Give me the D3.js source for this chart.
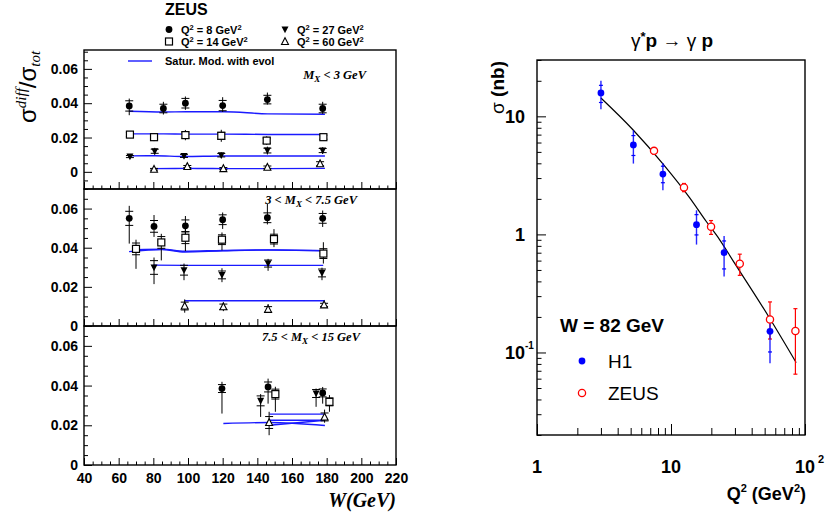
<!DOCTYPE html>
<html lang="en">
<head>
<meta charset="UTF-8">
<title>ZEUS DVCS</title>
<style>
  * { margin: 0; padding: 0; box-sizing: border-box; }
  body { background: #fff; }
  svg { display: block; font-family: "Liberation Sans", Arial, sans-serif; }
  .frame { fill: none; stroke: #000; stroke-width: 1.4px; }
  .model { fill: none; stroke: #1a1aff; stroke-width: 1.4px; }
  .bar { stroke: #000; stroke-width: 1px; }
  .serif { font-family: "Liberation Serif", "Times New Roman", serif; font-style: italic; }
</style>
</head>
<body>
<svg width="825" height="514"></svg>
<script src="https://d3js.org/d3.v7.min.js"></script>
<script>
// ---------- left: sigma_diff / sigma_tot vs W ----------
const wTicks = [40, 60, 80, 100, 120, 140, 160, 180, 200, 220];
const ratioTicks = [0, 0.02, 0.04, 0.06];
const ratioTickLabels = ["0", "0.02", "0.04", "0.06"];
const q2Labels = ["8", "14", "27", "60"];
const mxLabels = [["", " < 3 GeV"], ["3 < ", " < 7.5 GeV"], ["7.5 < ", " < 15 GeV"]];

// [W, ratio, errDown, errUp, stat]
const mx1Q8 = [[66.1, 0.0384, 0.0054, 0.0043, 0.0030], [85.8, 0.0369, 0.0035, 0.0039, 0.0025], [98.5, 0.0400, 0.0039, 0.0039, 0.0028],
               [120.0, 0.0386, 0.0037, 0.0049, 0.0030], [145.8, 0.0421, 0.0029, 0.0041, 0.0025], [177.7, 0.0369, 0.0031, 0.0039, 0.0025]];
const mx1Q14 = [[66.5, 0.0217, 0.0020, 0.0020, 0.0012], [80.4, 0.0202, 0.0023, 0.0023, 0.0015], [98.5, 0.0214, 0.0030, 0.0030, 0.0018],
                [119.2, 0.0210, 0.0035, 0.0035, 0.0020], [145.4, 0.0182, 0.0025, 0.0025, 0.0015], [178.1, 0.0202, 0.0020, 0.0020, 0.0012]];
const mx1Q27 = [[66.5, 0.0089, 0.0010, 0.0010, 0.0006], [80.8, 0.0120, 0.0020, 0.0020, 0.0012], [97.7, 0.0093, 0.0015, 0.0015, 0.0009],
                [119.2, 0.0097, 0.0017, 0.0017, 0.0010], [145.8, 0.0124, 0.0023, 0.0023, 0.0014], [177.7, 0.0124, 0.0020, 0.0020, 0.0012]];
const mx1Q60 = [[80.4, 0.0015, 0.0008, 0.0008, 0.0005], [99.6, 0.0031, 0.0010, 0.0010, 0.0006], [120.4, 0.0019, 0.0010, 0.0010, 0.0006],
                [145.8, 0.0027, 0.0012, 0.0012, 0.0007], [176.2, 0.0047, 0.0019, 0.0023, 0.0012]];

const mx2Q8 = [[66.1, 0.0550, 0.0129, 0.0064, 0.0036], [80.4, 0.0509, 0.0054, 0.0058, 0.0030], [98.5, 0.0512, 0.0070, 0.0050, 0.0030],
               [120.0, 0.0543, 0.0047, 0.0037, 0.0025], [145.8, 0.0553, 0.0034, 0.0071, 0.0025], [177.7, 0.0550, 0.0044, 0.0040, 0.0025]];
const mx2Q14 = [[70.0, 0.0394, 0.0102, 0.0047, 0.0030], [84.6, 0.0427, 0.0092, 0.0044, 0.0030], [98.5, 0.0451, 0.0068, 0.0054, 0.0030],
                [119.6, 0.0441, 0.0054, 0.0037, 0.0025], [149.6, 0.0444, 0.0041, 0.0051, 0.0025], [178.1, 0.0370, 0.0051, 0.0058, 0.0025]];
const mx2Q27 = [[80.4, 0.0299, 0.0085, 0.0051, 0.0035], [97.7, 0.0285, 0.0051, 0.0034, 0.0025], [119.6, 0.0261, 0.0037, 0.0034, 0.0020],
                [146.2, 0.0319, 0.0037, 0.0024, 0.0018], [177.3, 0.0271, 0.0037, 0.0027, 0.0020]];
const mx2Q60 = [[98.1, 0.0102, 0.0034, 0.0034, 0.0020], [120.4, 0.0098, 0.0022, 0.0022, 0.0014], [146.2, 0.0085, 0.0017, 0.0027, 0.0014],
                [178.5, 0.0108, 0.0014, 0.0014, 0.0008]];

const mx3Q8 = [[119.6, 0.0385, 0.0126, 0.0034, 0.0020], [146.2, 0.0393, 0.0084, 0.0042, 0.0025], [177.7, 0.0363, 0.0054, 0.0030, 0.0020]];
const mx3Q14 = [[150.4, 0.0357, 0.0089, 0.0037, 0.0025], [181.6, 0.0318, 0.0050, 0.0034, 0.0020]];
const mx3Q27 = [[141.9, 0.0323, 0.0081, 0.0034, 0.0025], [173.9, 0.0360, 0.0067, 0.0025, 0.0020]];
const mx3Q60 = [[146.8, 0.0214, 0.0064, 0.0054, 0.0030], [178.8, 0.0242, 0.0029, 0.0037, 0.0020]];

// saturation model with evolution, [W, ratio]
const mx1Fit8 = [[66, 0.0353], [86, 0.0349], [99, 0.0350], [121, 0.0350], [146, 0.0338], [179, 0.0336]];
const mx1Fit14 = [[66, 0.0221], [86, 0.0221], [99, 0.0220], [121, 0.0220], [146, 0.0218], [179, 0.0218]];
const mx1Fit27 = [[66, 0.0093], [81, 0.0094], [98, 0.0089], [120, 0.0092], [146, 0.0092], [179, 0.0092]];
const mx1Fit60 = [[80, 0.0019], [100, 0.0020], [120, 0.0019], [146, 0.0019], [179, 0.0020]];
const mx2Fit8 = [[66, 0.0380], [85, 0.0391], [98, 0.0378], [120, 0.0384], [146, 0.0389], [178, 0.0384]];
const mx2Fit14 = [[70, 0.0390], [85, 0.0392], [98, 0.0382], [120, 0.0386], [150, 0.0388], [178, 0.0385]];
const mx2Fit27 = [[80, 0.0311], [98, 0.0310], [120, 0.0310], [146, 0.0310], [178, 0.0310]];
const mx2Fit60 = [[98, 0.0129], [120, 0.0129], [146, 0.0129], [179, 0.0129]];
const mx3Fit8 = [[120.4, 0.0209], [147, 0.0214], [179, 0.0199]];
const mx3Fit14 = [[147, 0.0256], [179, 0.0256]];
const mx3Fit27 = [[147, 0.0225], [179, 0.0225]];
const mx3Fit60 = [[147, 0.0200], [179, 0.0225]];

// ---------- right: gamma* p -> gamma p, W = 82 GeV ----------
// [Q2, sigma, low, high, statLow, statHigh]
const h1Points = [[3.0, 15.8, 11.5, 20.0, 13.1, 18.3], [5.24, 5.73, 3.98, 7.6, 4.66, 6.87], [8.7, 3.24, 2.37, 4.03, 2.74, 3.78],
                  [15.5, 1.21, 0.82, 1.60, 0.99, 1.47], [24.9, 0.70, 0.44, 0.97, 0.51, 0.88], [54.8, 0.151, 0.081, 0.204, 0.101, 0.19]];
// [Q2, sigma, low, high]
const zeusPoints = [[7.47, 5.1, 4.8, 5.4], [12.5, 2.5, 2.3, 2.7], [19.9, 1.16, 1.0, 1.31],
                    [32.6, 0.565, 0.45, 0.68], [54.8, 0.19, 0.13, 0.268], [84.8, 0.152, 0.0655, 0.235]];
const fitCurve = [[3, 14.3], [5.2, 7.7], [8.7, 3.96], [13.8, 2.04], [18.4, 1.28], [23.1, 0.9], [29, 0.6], [54.5, 0.195], [86, 0.082]];
const q2Ticks = [1, 10, 100];
const q2TickLabels = [["1", ""], ["10", ""], ["10", "2"]];
const sigmaTicks = [0.1, 1, 10];
const sigmaTickLabels = [["10", "-1"], ["1", ""], ["10", ""]];

const svg = d3.select("svg");
svg.append("rect").attr("width", 825).attr("height", 514).attr("fill", "#fff");

function drawMarker(g, kind, cx, cy, color) {
  const s = 3.5;
  if (kind === "dot") {
    g.append("circle").attr("cx", cx).attr("cy", cy).attr("r", 3.4).attr("fill", color);
  } else if (kind === "square") {
    g.append("rect").attr("x", cx - s).attr("y", cy - s).attr("width", 2 * s).attr("height", 2 * s)
      .attr("fill", "#fff").attr("stroke", color).attr("stroke-width", 1.2);
  } else if (kind === "tridown") {
    g.append("path").attr("d", `M${cx - s},${cy - 3}L${cx + s},${cy - 3}L${cx},${cy + 3.8}Z`).attr("fill", color);
  } else if (kind === "triup") {
    g.append("path").attr("d", `M${cx - s},${cy + 3}L${cx + s},${cy + 3}L${cx},${cy - 3.8}Z`)
      .attr("fill", "#fff").attr("stroke", color).attr("stroke-width", 1.1);
  } else if (kind === "ring") {
    g.append("circle").attr("cx", cx).attr("cy", cy).attr("r", 3.6)
      .attr("fill", "#fff").attr("stroke", color).attr("stroke-width", 1.3);
  }
}

// ---- left panels ----
const x = d3.scaleLinear([40, 220], [84, 396]);
const markerKinds = ["dot", "square", "tridown", "triup"];
const panels = [
  { y: d3.scaleLinear([-0.01, 0.071], [189, 50]), data: [mx1Q8, mx1Q14, mx1Q27, mx1Q60], fits: [mx1Fit8, mx1Fit14, mx1Fit27, mx1Fit60], lx: 366, ly: 79 },
  { y: d3.scaleLinear([0, 0.07], [326, 189]), data: [mx2Q8, mx2Q14, mx2Q27, mx2Q60], fits: [mx2Fit8, mx2Fit14, mx2Fit27, mx2Fit60], lx: 357, ly: 204 },
  { y: d3.scaleLinear([0, 0.07], [465, 326]), data: [mx3Q8, mx3Q14, mx3Q27, mx3Q60], fits: [mx3Fit8, mx3Fit14, mx3Fit27, mx3Fit60], lx: 360, ly: 341 }
];
const minorW = d3.range(45, 220, 5).filter(d => d % 20 !== 0);

panels.forEach((p, i) => {
  const g = svg.append("g");
  const [lo, hi] = p.y.domain();
  const minorR = d3.range(Math.round(lo * 200), Math.round(hi * 200) + 1).map(k => k / 200)
    .filter(d => Math.round(d * 1000) % 20 !== 0);
  const bottom = p.y.range()[0], top = p.y.range()[1];

  g.append("g").attr("transform", "translate(84,0)")
    .call(d3.axisLeft(p.y).tickValues(minorR).tickSizeInner(-4).tickSizeOuter(0).tickFormat(""))
    .call(a => a.select(".domain").remove());
  g.append("g").attr("transform", "translate(84,0)")
    .call(d3.axisLeft(p.y).tickValues(ratioTicks).tickSizeInner(-8).tickSizeOuter(0).tickPadding(6)
      .tickFormat((d, k) => ratioTickLabels[k]))
    .call(a => a.select(".domain").remove())
    .call(a => a.selectAll("text").attr("font-size", 14).attr("font-weight", "bold")
      .attr("font-family", "Liberation Sans, Arial, sans-serif"));

  g.append("g").attr("transform", `translate(0,${bottom})`)
    .call(d3.axisBottom(x).tickValues(minorW).tickSizeInner(-3.5).tickSizeOuter(0).tickFormat(""))
    .call(a => a.select(".domain").remove());
  g.append("g").attr("transform", `translate(0,${bottom})`)
    .call(d3.axisBottom(x).tickValues(wTicks).tickSizeInner(-7).tickSizeOuter(0).tickPadding(8)
      .tickFormat(i === 2 ? (d => d) : ""))
    .call(a => a.select(".domain").remove())
    .call(a => a.selectAll("text").attr("font-size", 14).attr("font-weight", "bold")
      .attr("font-family", "Liberation Sans, Arial, sans-serif"));

  g.append("rect").attr("class", "frame").attr("x", 84).attr("y", top)
    .attr("width", 312).attr("height", bottom - top);

  const line = d3.line().x(d => x(d[0])).y(d => p.y(d[1])).curve(d3.curveMonotoneX);
  p.fits.forEach(f => g.append("path").attr("class", "model").attr("d", line(f)));

  p.data.forEach((series, s) => {
    series.forEach(d => {
      const cx = x(d[0]);
      g.append("line").attr("class", "bar").attr("x1", cx).attr("x2", cx)
        .attr("y1", p.y(d[1] - d[2])).attr("y2", p.y(d[1] + d[3]));
      [d[1] - d[4], d[1] + d[4]].forEach(v => g.append("line").attr("class", "bar")
        .attr("x1", cx - 4).attr("x2", cx + 4).attr("y1", p.y(v)).attr("y2", p.y(v)));
      drawMarker(g, markerKinds[s], cx, p.y(d[1]), "#000");
    });
  });

  const t = g.append("text").attr("class", "serif").attr("x", p.lx).attr("y", p.ly)
    .attr("text-anchor", "end").attr("font-size", 12.5).attr("font-weight", "bold");
  t.append("tspan").text(mxLabels[i][0] + "M");
  t.append("tspan").attr("font-size", 9).attr("dy", 3).text("X");
  t.append("tspan").attr("dy", -3).text(mxLabels[i][1]);
});

// left axis titles
const yt = svg.append("text").attr("transform", "translate(36,123) rotate(-90)").attr("font-size", 24);
yt.append("tspan").text("σ");
yt.append("tspan").attr("class", "serif").attr("font-size", 15).attr("dy", -10).text("diff");
yt.append("tspan").attr("dy", 10).text("/σ");
yt.append("tspan").attr("class", "serif").attr("font-size", 15).attr("dy", 4).text("tot");

svg.append("text").attr("class", "serif").attr("x", 396).attr("y", 507).attr("text-anchor", "end")
  .attr("font-size", 20).attr("font-weight", "bold").text("W(GeV)");

// left legend
svg.append("text").attr("x", 165).attr("y", 15).attr("font-size", 16).attr("font-weight", "bold").text("ZEUS");
q2Labels.forEach((q, k) => {
  const mx = k < 2 ? 169 : 285;
  const my = k % 2 === 0 ? 29.5 : 41.5;
  drawMarker(svg, markerKinds[k], mx, my, "#000");
  const t = svg.append("text").attr("x", mx + 12).attr("y", my + 4).attr("font-size", 11).attr("font-weight", "bold");
  t.append("tspan").text("Q");
  t.append("tspan").attr("font-size", 7.5).attr("dy", -3.5).text("2");
  t.append("tspan").attr("dy", 3.5).text(` = ${q} GeV`);
  t.append("tspan").attr("font-size", 7.5).attr("dy", -3.5).text("2");
});
svg.append("line").attr("class", "model").attr("x1", 128).attr("x2", 152).attr("y1", 61).attr("y2", 61);
svg.append("text").attr("x", 165).attr("y", 65).attr("font-size", 11).attr("font-weight", "bold").text("Satur. Mod. with evol");

// ---- right panel ----
const xq = d3.scaleLog([1, 100], [537, 805]);
const ys = d3.scaleLog([0.02, 30], [435, 60]);
const rg = svg.append("g");

const minorQ = xq.ticks().filter(d => !q2Ticks.includes(d));
rg.append("g").attr("transform", "translate(0,435)")
  .call(d3.axisBottom(xq).tickValues(minorQ).tickSizeInner(-7).tickSizeOuter(0).tickFormat(""))
  .call(a => a.select(".domain").remove());
rg.append("g").attr("transform", "translate(0,435)")
  .call(d3.axisBottom(xq).tickValues(q2Ticks).tickSizeInner(-11).tickSizeOuter(0).tickFormat(""))
  .call(a => a.select(".domain").remove());
const minorS = ys.ticks().filter(d => !sigmaTicks.some(m => Math.abs(m - d) < 1e-9));
rg.append("g").attr("transform", "translate(537,0)")
  .call(d3.axisLeft(ys).tickValues(minorS).tickSizeInner(-4.5).tickSizeOuter(0).tickFormat(""))
  .call(a => a.select(".domain").remove());
rg.append("g").attr("transform", "translate(537,0)")
  .call(d3.axisLeft(ys).tickValues(sigmaTicks).tickSizeInner(-9).tickSizeOuter(0).tickFormat(""))
  .call(a => a.select(".domain").remove());

q2Ticks.forEach((v, k) => {
  const [base, sup] = q2TickLabels[k];
  rg.append("text").attr("x", xq(v)).attr("y", 473).attr("text-anchor", "middle")
    .attr("font-size", 18).attr("font-weight", "bold").text(base);
  if (sup) rg.append("text").attr("x", xq(v) + 13).attr("y", 463).attr("font-size", 11).attr("font-weight", "bold").text(sup);
});
sigmaTicks.forEach((v, k) => {
  const [base, sup] = sigmaTickLabels[k];
  rg.append("text").attr("x", 525).attr("y", ys(v) + 6.5).attr("text-anchor", "end")
    .attr("font-size", 18).attr("font-weight", "bold").text(base);
  if (sup) rg.append("text").attr("x", 525).attr("y", ys(v) - 3).attr("font-size", 10).attr("font-weight", "bold").text(sup);
});

rg.append("rect").attr("class", "frame").attr("x", 537).attr("y", 60).attr("width", 268).attr("height", 375);

rg.append("path").attr("fill", "none").attr("stroke", "#000").attr("stroke-width", 1.2)
  .attr("d", d3.line().x(d => xq(d[0])).y(d => ys(d[1])).curve(d3.curveMonotoneX)(fitCurve));

zeusPoints.forEach(d => {
  const cx = xq(d[0]);
  rg.append("line").attr("x1", cx).attr("x2", cx).attr("y1", ys(d[2])).attr("y2", ys(d[3]))
    .attr("stroke", "#f00").attr("stroke-width", 1.2);
  [d[2], d[3]].forEach(v => rg.append("line").attr("x1", cx - 2).attr("x2", cx + 2).attr("y1", ys(v)).attr("y2", ys(v))
    .attr("stroke", "#f00").attr("stroke-width", 1.2));
});
h1Points.forEach(d => {
  const cx = xq(d[0]);
  rg.append("line").attr("x1", cx).attr("x2", cx).attr("y1", ys(d[2])).attr("y2", ys(d[3]))
    .attr("stroke", "#0000ff").attr("stroke-width", 1.4).attr("opacity", 0.85);
  [d[4], d[5]].forEach(v => rg.append("line").attr("x1", cx - 2).attr("x2", cx + 2).attr("y1", ys(v)).attr("y2", ys(v))
    .attr("stroke", "#0000ff").attr("stroke-width", 1.2));
  drawMarker(rg, "dot", cx, ys(d[1]), "#0000ff");
});
zeusPoints.forEach(d => drawMarker(rg, "ring", xq(d[0]), ys(d[1]), "#f00"));

// right titles
const tt = svg.append("text").attr("x", 672).attr("y", 47).attr("text-anchor", "middle").attr("font-size", 19).attr("font-weight", "bold");
tt.append("tspan").attr("font-weight", "normal").text("γ");
tt.append("tspan").attr("font-size", 13).attr("dy", -6).text("*");
tt.append("tspan").attr("dy", 6).text("p ");
tt.append("tspan").attr("font-weight", "normal").text("→ γ ");
tt.append("tspan").text("p");

const sy = svg.append("text").attr("transform", "translate(504,61) rotate(-90)").attr("text-anchor", "end")
  .attr("font-size", 19).attr("font-weight", "bold");
sy.append("tspan").attr("font-weight", "normal").text("σ");
sy.append("tspan").text("  (nb)");

const xt = svg.append("text").attr("x", 806).attr("y", 500).attr("text-anchor", "end").attr("font-size", 18).attr("font-weight", "bold");
xt.append("tspan").text("Q");
xt.append("tspan").attr("font-size", 11).attr("dy", -8).text("2");
xt.append("tspan").attr("dy", 8).text("  (GeV");
xt.append("tspan").attr("font-size", 11).attr("dy", -8).text("2");
xt.append("tspan").attr("dy", 8).text(")");

svg.append("text").attr("x", 560).attr("y", 332).attr("font-size", 19).attr("font-weight", "bold").text("W = 82 GeV");
drawMarker(svg, "dot", 582, 361, "#0000ff");
svg.append("text").attr("x", 608).attr("y", 368).attr("font-size", 19).text("H1");
drawMarker(svg, "ring", 582, 393, "#f00");
svg.append("text").attr("x", 608).attr("y", 400).attr("font-size", 19).text("ZEUS");
</script>
</body>
</html>
